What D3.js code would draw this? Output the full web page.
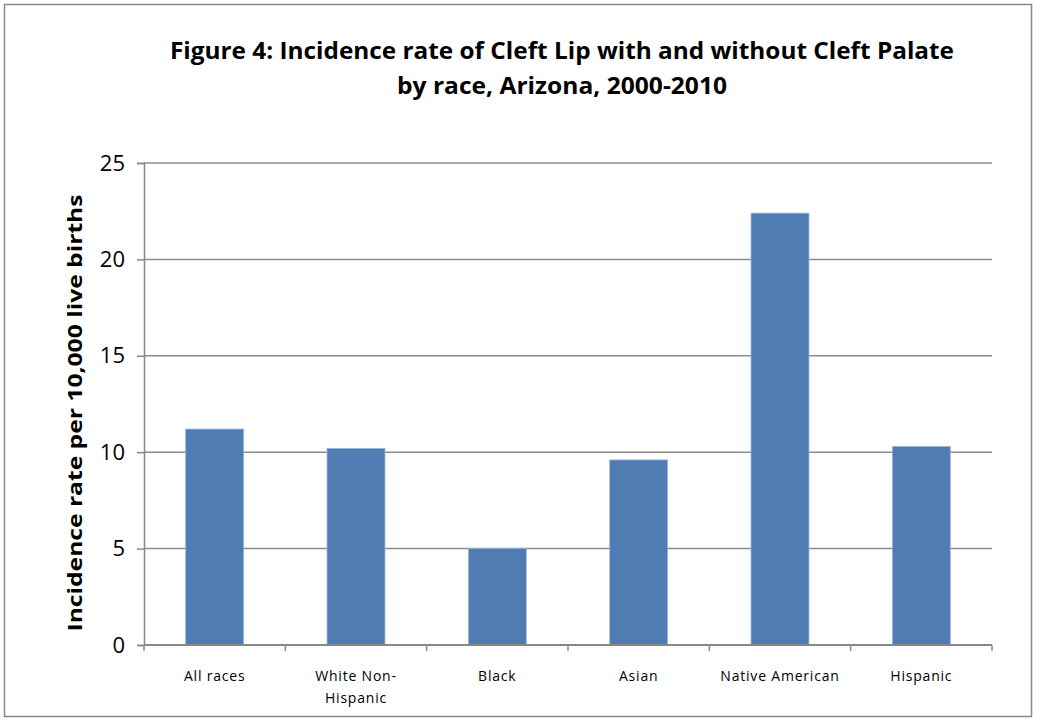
<!DOCTYPE html>
<html>
<head>
<meta charset="utf-8">
<script src="https://cdn.jsdelivr.net/npm/d3@7"></script>
<style>
  body { margin: 0; background: #fff; }
  svg { display: block; }
</style>
</head>
<body>
<div class="chart"></div>
<script>
// Data
const categories = ['All races', 'White Non-Hispanic', 'Black', 'Asian', 'Native American', 'Hispanic'];
const rates = [11.2, 10.2, 5.0, 9.6, 22.4, 10.3];
const yTicks = [0, 5, 10, 15, 20, 25];
const titleLines = ['Figure 4:  Incidence rate of Cleft Lip with and without Cleft Palate', 'by race, Arizona, 2000-2010'];

const width = 1037;
const height = 720;
const margin = {top: 163, right: 45, bottom: 75, left: 144};

const svg = d3.select('.chart')
  .append('svg')
  .attr('width', width)
  .attr('height', height);

// outer frame
svg.append('rect')
  .attr('x', 4.5).attr('y', 4.5)
  .attr('width', 1027).attr('height', 712)
  .attr('fill', 'none')
  .attr('stroke', '#888')
  .attr('stroke-width', 1.5);

const x = d3.scaleBand()
  .domain(categories)
  .range([margin.left, width - margin.right])
  .paddingInner(0.59)
  .paddingOuter(0.295);

const y = d3.scaleLinear()
  .domain([0, 25])
  .range([height - margin.bottom, margin.top]);

// gridlines
svg.append('g')
  .selectAll('line')
  .data(yTicks.filter(d => d > 0))
  .enter()
  .append('line')
  .attr('x1', margin.left)
  .attr('x2', width - margin.right)
  .attr('y1', d => y(d))
  .attr('y2', d => y(d))
  .attr('stroke', '#8c8c8c')
  .attr('stroke-width', 1.5);

// bars
svg.append('g')
  .selectAll('rect')
  .data(rates)
  .enter()
  .append('rect')
  .attr('x', (d, i) => x(categories[i]))
  .attr('width', x.bandwidth())
  .attr('y', d => y(d))
  .attr('height', d => y(0) - y(d))
  .attr('fill', '#4F7DB3')
  .attr('stroke', '#9bb5d8')
  .attr('stroke-width', 0.8);

// y axis
const yAxis = svg.append('g')
  .attr('transform', `translate(${margin.left},0)`)
  .call(d3.axisLeft(y).tickValues(yTicks).tickSize(7).tickPadding(12));
yAxis.select('.domain').attr('stroke', '#888').attr('stroke-width', 1.5);
yAxis.selectAll('.tick line').attr('stroke', '#888').attr('stroke-width', 1.5);
yAxis.selectAll('text')
  .attr('font-family', 'Open Sans, sans-serif')
  .attr('font-size', '22px')
  .attr('fill', '#000');

// x axis, ticks between categories
const bounds = d3.range(categories.length + 1).map(i => margin.left + i * x.step());
const xg = svg.append('g');
xg.append('line')
  .attr('x1', margin.left).attr('x2', width - margin.right)
  .attr('y1', y(0)).attr('y2', y(0))
  .attr('stroke', '#888').attr('stroke-width', 2);
xg.selectAll('line.tk')
  .data(bounds)
  .enter()
  .append('line')
  .attr('class', 'tk')
  .attr('x1', d => d).attr('x2', d => d)
  .attr('y1', y(0)).attr('y2', y(0) + 6)
  .attr('stroke', '#888').attr('stroke-width', 1.5);

// category labels (wrapped like the original)
const labelLines = {'White Non-Hispanic': ['White Non-', 'Hispanic']};
xg.selectAll('text')
  .data(categories)
  .enter()
  .append('text')
  .attr('x', d => x(d) + x.bandwidth() / 2)
  .attr('y', y(0) + 36)
  .attr('text-anchor', 'middle')
  .attr('font-family', 'Open Sans, sans-serif')
  .attr('font-size', '14px')
  .attr('letter-spacing', '0.8px')
  .attr('fill', '#000')
  .each(function(d) {
    const lines = labelLines[d] || [d];
    d3.select(this).selectAll('tspan')
      .data(lines)
      .enter()
      .append('tspan')
      .attr('x', x(d) + x.bandwidth() / 2)
      .attr('dy', (l, i) => i === 0 ? 0 : 22)
      .text(l => l);
  });

// title
const titleWidths = [784, 330];
svg.append('g')
  .selectAll('text')
  .data(titleLines)
  .enter()
  .append('text')
  .attr('x', 562)
  .attr('y', (d, i) => 59 + i * 35)
  .attr('text-anchor', 'middle')
  .attr('font-family', 'Open Sans, sans-serif')
  .attr('font-weight', 'bold')
  .attr('font-size', '23px')
  .attr('textLength', (d, i) => titleWidths[i])
  .attr('lengthAdjust', 'spacingAndGlyphs')
  .text(d => d);

// y axis title
svg.append('text')
  .attr('transform', `translate(82,${413}) rotate(-90)`)
  .attr('text-anchor', 'middle')
  .attr('font-family', 'Open Sans, sans-serif')
  .attr('font-weight', 'bold')
  .attr('font-size', '20px')
  .attr('textLength', 437)
  .attr('lengthAdjust', 'spacingAndGlyphs')
  .text('Incidence  rate per 10,000 live  births');
</script>
</body>
</html>
